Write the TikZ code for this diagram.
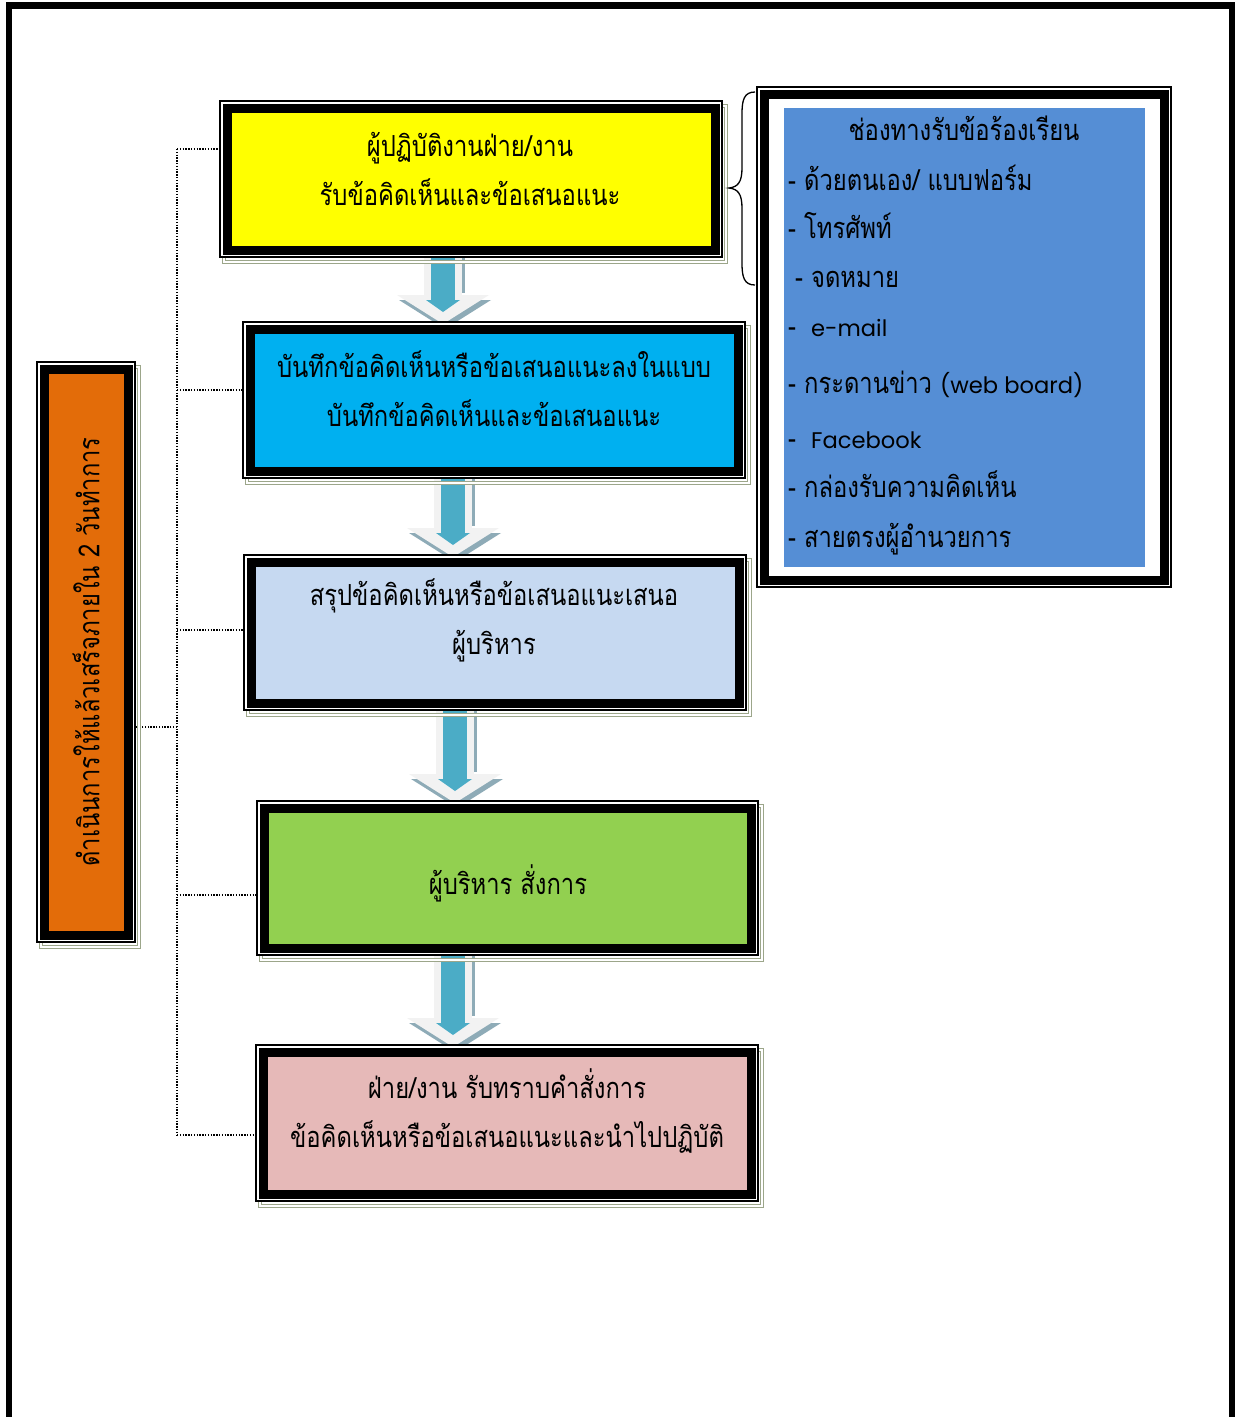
\documentclass[tikz,border=0pt]{standalone}
\usepackage{fontspec}
\usepackage{graphicx}
\newfontfamily\thaifont[Script=Thai, FakeStretch=0.82]{Loma}
\newfontfamily\latfont[Scale=0.78]{Poppins}
\usetikzlibrary{calc}
\definecolor{yelF}{HTML}{FFFF00}
\definecolor{bluF}{HTML}{00B0F0}
\definecolor{lbuF}{HTML}{C6D9F1}
\definecolor{grnF}{HTML}{92D050}
\definecolor{pnkF}{HTML}{E6B9B8}
\definecolor{orgF}{HTML}{E36C09}
\definecolor{lstF}{HTML}{558ED5}
\definecolor{arrT}{HTML}{4BACC6}
\definecolor{arrL}{HTML}{F2F2F2}
\definecolor{arrS}{HTML}{8EABB7}
\definecolor{shdC}{HTML}{9CA68A}
\pgfdeclarelayer{bg}
\pgfdeclarelayer{mid}
\pgfsetlayers{bg,mid,main}
\newcommand\blkarrow[4]{%
  \coordinate (#1x) at (#2,0);
  \coordinate (#1s) at (#1x |- #3.south);
  \coordinate (#1n) at (#1x |- #4.north);
  \coordinate (#1t) at ($(#1n)+(0,-5)$);
  \begin{pgfonlayer}{bg}
    \fill[arrS] ($(#1s)+(-16,0)$) rectangle ($(#1t)+(22,-31)$);
    \fill[arrL] ($(#1s)+(-19,0)$) rectangle ($(#1t)+(19,-29)$);
    \fill[arrS] ($(#1t)+(-44,-24)$) -- ($(#1t)+(48,-24)$) -- ($(#1t)+(2,5)$) -- cycle;
    \fill[arrL] ($(#1t)+(-46,-29)$) -- ($(#1t)+(46,-29)$) -- (#1t) -- cycle;
    \fill[arrT] ($(#1s)+(-12,0)$) rectangle ($(#1t)+(12,-24)$);
    \fill[arrT] ($(#1t)+(-17,-24)$) -- ($(#1t)+(17,-24)$) -- ($(#1t)+(0,-12)$) -- cycle;
  \end{pgfonlayer}}
\newcommand\myboxframe[1]{%
  \begin{pgfonlayer}{mid}
    \draw[shdC, line width=1.1pt, double=white, double distance=1.6pt]
      ($(#1.north west)+(-3,-2)$) rectangle ($(#1.south east)+(11,12)$);
    \draw[black, line width=1.2pt, fill=white]
      ($(#1.north west)+(-7,-7)$) rectangle ($(#1.south east)+(7,7)$);
  \end{pgfonlayer}}
\begin{document}
\begin{tikzpicture}[x=1pt,y=-1pt,
  flowbox/.style={draw=black, line width=9pt, outer sep=0pt, inner sep=0pt},
  boxtext/.style={align=center, inner sep=0pt, font=\fontsize{29}{49}\thaifont\selectfont},
  listtext/.style={anchor=base west, inner sep=0pt, font=\fontsize{29}{32}\thaifont\selectfont},
  dotline/.style={black, line width=1.4pt, dash pattern=on 1.4pt off 1.4pt}]
\useasboundingbox (0,0) rectangle (1239,1417);
\begin{pgfonlayer}{bg}
\fill[white] (0,0) rectangle (1239,1417);
\end{pgfonlayer}
% page frame
\draw[black, line width=6.5pt] (9,1440) -- (9,5.5) -- (1232,5.5) -- (1232,1440);

% flow boxes
\node[flowbox, fill=yelF, minimum width=488, minimum height=142] (b1) at (471,179) {};
\node[flowbox, fill=bluF, minimum width=488, minimum height=142] (b2) at (494,400) {};
\node[flowbox, fill=lbuF, minimum width=488, minimum height=141] (b3) at (495,632.5) {};
\node[flowbox, fill=grnF, minimum width=487, minimum height=140] (b4) at (507.5,878) {};
\node[flowbox, fill=pnkF, minimum width=488, minimum height=142] (b5) at (507,1123) {};
\node[flowbox, fill=orgF, minimum width=84, minimum height=566,
      font=\fontsize{29}{32}\thaifont\selectfont] (ob) at (86,652)
      {\rotatebox{90}{ดำเนินการให้แล้วเสร็จภายใน 2 วันทำการ}};
\foreach \b in {b1,b2,b3,b4,b5,ob} {\myboxframe{\b}}

% box texts
\node[boxtext] (t1) at (470,169) {ผู้ปฏิบัติงานฝ่าย/งาน\\รับข้อคิดเห็นและข้อเสนอแนะ};
\node[boxtext] (t2) at (494,388.5) {บันทึกข้อคิดเห็นหรือข้อเสนอแนะลงในแบบ\\บันทึกข้อคิดเห็นและข้อเสนอแนะ};
\node[boxtext] (t3) at (494,620.5) {สรุปข้อคิดเห็นหรือข้อเสนอแนะเสนอ\\ผู้บริหาร};
\node[boxtext] (t4) at (508,883) {ผู้บริหาร สั่งการ};
\node[boxtext] (t5) at (507,1111) {ฝ่าย/งาน รับทราบคำสั่งการ\\ข้อคิดเห็นหรือข้อเสนอแนะและนำไปปฏิบัติ};

% block arrows
\blkarrow{a1}{443}{b1}{b2}
\blkarrow{a2}{453}{b2}{b3}
\blkarrow{a3}{455}{b3}{b4}
\blkarrow{a4}{453}{b4}{b5}

% dotted connectors
\coordinate (s0) at (177,727);
\coordinate (s1) at (177,149);
\coordinate (s2) at (177,390);
\coordinate (s3) at (177,630);
\coordinate (s4) at (177,895);
\coordinate (s5) at (177,1135);
\begin{pgfonlayer}{bg}
\draw[dotline] (s1) -- (s5);
\draw[dotline] (s0) -- (s0 -| ob.east);
\draw[dotline] (s1) -- (s1 -| b1.west);
\draw[dotline] (s2) -- (s2 -| b2.west);
\draw[dotline] (s3) -- (s3 -| b3.west);
\draw[dotline] (s4) -- (s4 -| b4.west);
\draw[dotline] (s5) -- (s5 -| b5.west);
\end{pgfonlayer}

% channel list box
\node[draw=black, line width=9pt, fill=white, outer sep=0pt, minimum width=400, minimum height=486] (lbf) at (964,337) {};
\draw[black, line width=1.2pt] ($(lbf.north west)+(-7,-7)$) rectangle ($(lbf.south east)+(7,7)$);
\node[fill=lstF, inner sep=0pt, minimum width=361, minimum height=459] (lb) at (964.5,337.5) {};
\node[listtext, anchor=base] (l0) at (964,140) {ช่องทางรับข้อร้องเรียน};
\node[listtext] (l1) at (788,190) {- ด้วยตนเอง/ แบบฟอร์ม};
\node[listtext] (l2) at (788,238) {- โทรศัพท์};
\node[listtext] (l3) at (795,287) {- จดหมาย};
\node[listtext] (l4) at (788,336) {-\hspace{15pt}{\latfont e-mail}};
\node[listtext] (l5) at (788,393) {- กระดานข่าว {\latfont (web board)}};
\node[listtext] (l6) at (788,448) {-\hspace{15pt}{\latfont Facebook}};
\node[listtext] (l7) at (788,497) {- กล่องรับความคิดเห็น};
\node[listtext] (l8) at (788,547) {- สายตรงผู้อำนวยการ};

% brace
\draw[black, line width=1.3pt]
  (755,92) .. controls (744,92) and (742,100) .. (742,114) -- (742,168)
  .. controls (742,182) and (738,187) .. (729,188)
  .. controls (738,189) and (742,194) .. (742,208) -- (742,263)
  .. controls (742,277) and (744,285) .. (755,285);
\end{tikzpicture}
\end{document}
